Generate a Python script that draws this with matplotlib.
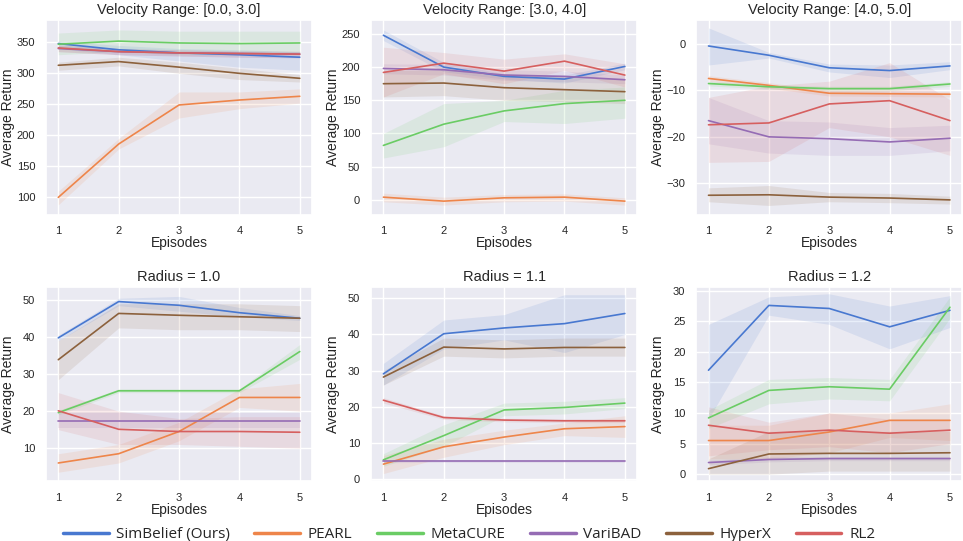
import matplotlib
matplotlib.use("Agg")
import matplotlib.pyplot as plt
import seaborn as sns

episodes = [1, 2, 3, 4, 5]
methods = ["SimBelief (Ours)", "PEARL", "MetaCURE", "VariBAD", "HyperX", "RL2"]
titles = ["Velocity Range: [0.0, 3.0]", "Velocity Range: [3.0, 4.0]", "Velocity Range: [4.0, 5.0]",
          "Radius = 1.0", "Radius = 1.1", "Radius = 1.2"]

# mean curves, per panel, in method order
vel03_mean = [[348, 338, 333, 330, 326], [100, 186, 249, 257, 263], [347, 352, 349, 348, 349],
              [340, 335, 333, 332, 331], [313, 319, 310, 300, 292], [341, 335, 333, 332, 331]]
vel34_mean = [[248, 200, 186, 182, 201], [4, -2, 3, 4, -2], [82, 114, 134, 145, 150],
              [198, 196, 188, 186, 181], [175, 176, 169, 166, 163], [192, 206, 194, 209, 188]]
vel45_mean = [[-0.4, -2.4, -5.1, -5.7, -4.7], [-7.4, -8.9, -10.6, -10.7, -10.8], [-8.5, -9.2, -9.6, -9.6, -8.6],
              [-16.5, -20.0, -20.4, -21.1, -20.3], [-32.6, -32.5, -33.0, -33.2, -33.6], [-17.4, -17.0, -12.9, -12.2, -16.5]]
rad10_mean = [[39.8, 49.6, 48.6, 46.6, 45.1], [6.0, 8.5, 14.5, 23.7, 23.7], [19.6, 25.5, 25.5, 25.5, 36.1],
              [17.3, 17.3, 17.3, 17.3, 17.3], [33.9, 46.4, 45.9, 45.5, 45.1], [20.1, 15.1, 14.5, 14.5, 14.3]]
rad11_mean = [[29.1, 40.2, 41.8, 43.0, 45.8], [4.1, 8.9, 11.6, 13.9, 14.5], [5.3, 12.0, 19.1, 19.8, 21.0],
              [4.9, 4.9, 4.9, 4.9, 4.9], [28.2, 36.5, 36.0, 36.4, 36.4], [21.8, 17.0, 16.3, 16.1, 16.1]]
rad12_mean = [[17.0, 27.6, 27.1, 24.1, 26.8], [5.5, 5.5, 6.9, 8.8, 8.8], [9.2, 13.7, 14.3, 13.9, 27.3],
              [1.9, 2.4, 2.55, 2.55, 2.55], [0.9, 3.3, 3.4, 3.4, 3.5], [8.0, 6.7, 7.2, 6.7, 7.2]]

# shaded band lower / upper bounds
vel03_lo = [[340, 330, 320, 310, 305], [88, 178, 228, 243, 252], [330, 335, 330, 330, 330],
            [335, 330, 328, 326, 325], [305, 312, 300, 290, 286], [335, 330, 328, 326, 325]]
vel03_hi = [[352, 345, 340, 338, 335], [110, 195, 270, 270, 275], [365, 370, 368, 368, 368],
            [345, 340, 338, 336, 335], [318, 326, 318, 308, 298], [346, 340, 338, 336, 336]]
vel34_lo = [[240, 193, 182, 176, 196], [-3, -8, -3, -2, -8], [63, 80, 118, 115, 123],
            [190, 188, 180, 178, 175], [155, 157, 150, 148, 145], [155, 190, 175, 195, 170]]
vel34_hi = [[256, 207, 190, 188, 206], [10, 4, 8, 9, 3], [100, 145, 150, 165, 170],
            [205, 204, 196, 194, 188], [195, 196, 190, 186, 182], [230, 222, 212, 220, 205]]
vel45_lo = [[-4.5, -3, -6, -7.2, -5.5], [-8, -9.5, -11.2, -11.3, -11.4], [-9, -9.7, -10.1, -10.1, -9.1],
            [-21.5, -23.5, -24, -24, -23], [-34, -34.8, -34, -34.2, -34.5], [-25.5, -25.3, -18, -20, -24]]
vel45_hi = [[3.5, -1.8, -4.3, -4.5, -3.8], [-6.8, -8.3, -10, -10.1, -10.2], [-8, -8.7, -9.1, -9.1, -8.1],
            [-11.5, -16.5, -16.8, -18, -17.5], [-31, -30.5, -32, -32.2, -32.8], [-11.5, -9, -8, -4, -12]]
rad10_lo = [[39, 48.5, 47, 45.5, 44.5], [3.5, 6, 12, 21, 20], [19, 25, 25, 25, 34],
            [15.5, 15.5, 15.5, 15.5, 15.5], [28.5, 42.5, 42, 42, 41.5], [15, 11, 11, 10.5, 10]]
rad10_hi = [[40.5, 50.5, 51, 48, 45.8], [8.5, 11, 17, 26, 27.5], [20.2, 26, 26, 26, 38],
            [19.5, 19.5, 19.5, 19.5, 19.5], [39, 49, 49, 49, 48.5], [25, 20, 18, 18.5, 18.5]]
rad11_lo = [[26, 36, 38.5, 35, 40], [1.5, 6, 9.5, 12, 11.5], [3.5, 9, 17.5, 18, 19.5],
            [4.5, 4.6, 4.6, 4.6, 4.6], [26, 34, 33.5, 34, 34], [21, 16.5, 15.8, 15.6, 15.6]]
rad11_hi = [[32, 44, 45.5, 51, 51], [6.5, 11, 13.5, 15.5, 17.5], [7, 15, 21, 21.5, 22.5],
            [5.2, 5.2, 5.2, 5.2, 5.2], [30, 39, 38.5, 39, 39], [22.5, 17.5, 16.8, 16.6, 16.6]]
rad12_lo = [[9, 26, 24.5, 20.5, 24], [2.5, 2.5, 3.5, 6, 5.5], [7.5, 11.5, 12.3, 12, 25.5],
            [1.5, 2, 2.2, 2.2, 2.2], [0, 0, 0.5, 0.5, 0.5], [3, 4, 4.5, 3.5, 5]]
rad12_hi = [[24.5, 29, 29.5, 27.5, 29.2], [8, 8, 10, 10, 11.5], [10.5, 15.5, 15.8, 15.5, 29],
            [2.3, 2.8, 2.9, 2.9, 2.9], [2.5, 7, 7, 7, 7], [11, 8.5, 10, 9, 9]]

ylims = [(72, 386), (-22.5, 271), (-36.8, 5.2), (1.0, 53.6), (-0.7, 53.2), (-1.2, 30.65)]
yticks = [[100, 150, 200, 250, 300, 350], [0, 50, 100, 150, 200, 250], [-30, -20, -10, 0],
          [10, 20, 30, 40, 50], [0, 10, 20, 30, 40, 50], [0, 5, 10, 15, 20, 25, 30]]

means = [vel03_mean, vel34_mean, vel45_mean, rad10_mean, rad11_mean, rad12_mean]
lows = [vel03_lo, vel34_lo, vel45_lo, rad10_lo, rad11_lo, rad12_lo]
highs = [vel03_hi, vel34_hi, vel45_hi, rad10_hi, rad11_hi, rad12_hi]

sns.set_theme(style="darkgrid")
plt.rcParams['font.family'] = ['Liberation Sans', 'DejaVu Sans']
colors = sns.color_palette("muted")
colorMap = {"SimBelief (Ours)": colors[0], "PEARL": colors[1], "MetaCURE": colors[2],
            "VariBAD": colors[4], "HyperX": colors[5], "RL2": colors[3]}

fig, axes = plt.subplots(2, 3, figsize=(9.63, 5.41), dpi=100)
fig.subplots_adjust(left=0.048, right=0.999, top=0.963, bottom=0.11, wspace=0.224, hspace=0.37)

for k, ax in enumerate(axes.flat):
    for m, name in enumerate(methods):
        c = colorMap[name]
        ax.fill_between(episodes, lows[k][m], highs[k][m], color=c, alpha=0.12, linewidth=0)
        ax.plot(episodes, means[k][m], color=c, linewidth=1.2, label=name)
    ax.set_title(titles[k], fontsize=10.5, pad=4)
    ax.set_xlabel("Episodes", fontsize=10, labelpad=0)
    ax.set_ylabel("Average Return", fontsize=10)
    ax.yaxis.set_label_coords(-0.118, 0.5)
    ax.set_xticks(episodes)
    ax.set_yticks(yticks[k])
    ax.set_ylim(*ylims[k])
    ax.set_xlim(0.8, 5.2)
    ax.tick_params(labelsize=8, pad=2)

handles, labels = axes[0, 0].get_legend_handles_labels()
leg = fig.legend(handles, labels, loc='center', bbox_to_anchor=(0.487, 0.012), ncol=6,
                 frameon=False, prop={'family': 'Open Sans', 'size': 11},
                 handlelength=3.0, columnspacing=1.6, handletextpad=0.5)
for line in leg.get_lines():
    line.set_linewidth(2.5)

plt.savefig("out.png", dpi=100)
